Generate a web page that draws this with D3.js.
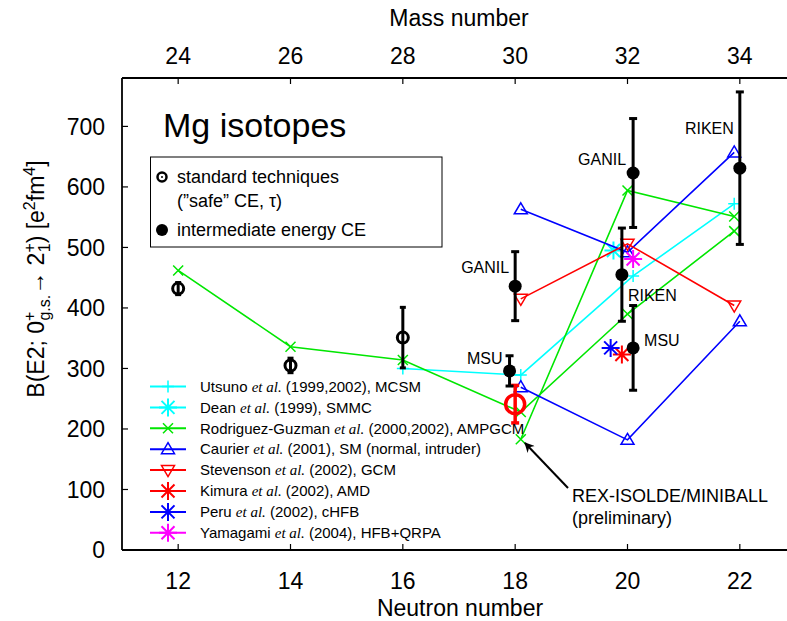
<!DOCTYPE html>
<html>
<head>
<meta charset="utf-8">
<script src="https://cdn.jsdelivr.net/npm/d3@7"></script>
<style>
  body { margin: 0; background: #fff; }
  svg { font-family: "Liberation Sans", Arial, sans-serif; }
</style>
</head>
<body>
<svg id="chart" width="787" height="621"></svg>
<script>
// tick labels
const neutronTicks = [12, 14, 16, 18, 20, 22];
const massTicks = [24, 26, 28, 30, 32, 34];
const bTicks = [0, 100, 200, 300, 400, 500, 600, 700];

// experiment: standard techniques (open circles)
const stdN = [12, 14, 16];
const stdB = [432, 305, 351];
const stdErr = [10, 12, 50];
// REX-ISOLDE/MINIBALL (preliminary)
const rexN = [18];
const rexB = [241];
const rexErr = [31];
// intermediate energy CE (filled)
const ieN = [17.9, 18.0, 20.1, 19.9, 20.1, 22.0];
const ieB = [296, 436, 623, 455, 334, 631];
const ieErr = [25, 57, 90, 77, 70, 126];
const ieLab = ["MSU", "GANIL", "GANIL", "RIKEN", "MSU", "RIKEN"];

// theory
const utsunoN = [16, 18.1, 20.1, 21.9];
const utsunoB = [300, 289, 453, 572];
const deanN = [19.75];
const deanB = [495];
const rodrigN1 = [12, 14, 16, 18.1, 20, 21.9];
const rodrigB1 = [462, 336, 314, 228, 390, 527];
const rodrigN2 = [18.1, 20, 21.9];
const rodrigB2 = [183, 594, 551];
const caurierN1 = [18.1, 20, 21.9];
const caurierB1 = [563, 492, 657];
const caurierN2 = [18.1, 20, 22];
const caurierB2 = [269, 182, 378];
const stevN = [18.1, 20, 21.9];
const stevB = [415, 506, 404];
const kimuraN = [19.9];
const kimuraB = [323];
const peruN = [19.7];
const peruB = [334];
const yamaN = [20.1];
const yamaB = [481];

const svg = d3.select("#chart");
const mLeft = 122, mTop = 78, mBottom = 550, mRight = 796;

const x = d3.scaleLinear().domain([11, 23]).range([mLeft, mRight]);
const y = d3.scaleLinear().domain([0, 780]).range([mBottom, mTop]);

const zip = (a, b) => a.map((v, i) => [v, b[i]]);

// markers
function marker(g, kind, cx, cy, color) {
  const m = g.append("g").attr("transform", `translate(${cx},${cy})`)
    .style("stroke", color).style("fill", "none").style("stroke-width", 1.5);
  if (kind === "plus") {
    m.append("path").attr("d", "M-6,0H6M0,-6V6");
  } else if (kind === "cross") {
    m.append("path").attr("d", "M-5,-5L5,5M-5,5L5,-5");
  } else if (kind === "star") {
    m.style("stroke-width", 2)
      .append("path").attr("d", "M-9,0H9M0,-9V9M-6.5,-6.5L6.5,6.5M-6.5,6.5L6.5,-6.5");
  } else if (kind === "tri") {
    m.append("path").attr("d", "M0,-6.5L6.5,4.5H-6.5Z");
  } else if (kind === "tridown") {
    m.append("path").attr("d", "M0,6.5L6.5,-4.5H-6.5Z");
  }
}

function series(N, B, color, kind, line) {
  const g = svg.append("g");
  if (line) {
    g.append("path")
      .attr("d", d3.line().x(d => x(d[0])).y(d => y(d[1]))(zip(N, B)))
      .style("fill", "none").style("stroke", color).style("stroke-width", 1.6);
  }
  N.forEach((n, i) => marker(g, kind, x(n), y(B[i]), color));
}

const cyan = "#00ffff", green = "#00e600", blue = "#0000ff", red = "#ff0000", magenta = "#ff00ff";

series(utsunoN, utsunoB, cyan, "plus", true);
series(deanN, deanB, cyan, "star", false);
series(rodrigN1, rodrigB1, green, "cross", true);
series(rodrigN2, rodrigB2, green, "cross", true);
series(caurierN1, caurierB1, blue, "tri", true);
series(caurierN2, caurierB2, blue, "tri", true);
series(stevN, stevB, red, "tridown", true);
series(kimuraN, kimuraB, red, "star", false);
series(peruN, peruB, blue, "star", false);
series(yamaN, yamaB, magenta, "star", false);

// error bars
function errBar(g, n, b, e, color, w, cap) {
  g.append("line").attr("x1", x(n)).attr("x2", x(n)).attr("y1", y(b - e)).attr("y2", y(b + e))
    .style("stroke", color).style("stroke-width", w);
  [b - e, b + e].forEach(v => g.append("line")
    .attr("x1", x(n) - cap).attr("x2", x(n) + cap).attr("y1", y(v)).attr("y2", y(v))
    .style("stroke", color).style("stroke-width", w));
}

const exp = svg.append("g");
stdN.forEach((n, i) => {
  errBar(exp, n, stdB[i], stdErr[i], "#000", 3, 3);
  exp.append("circle").attr("cx", x(n)).attr("cy", y(stdB[i])).attr("r", 5.5)
    .style("fill", "none").style("stroke", "#000").style("stroke-width", 3);
});
rexN.forEach((n, i) => {
  errBar(exp, n, rexB[i], rexErr[i], red, 3.5, 4);
  exp.append("circle").attr("cx", x(n)).attr("cy", y(rexB[i])).attr("r", 9.5)
    .style("fill", "none").style("stroke", red).style("stroke-width", 3.5);
});
ieN.forEach((n, i) => {
  errBar(exp, n, ieB[i], ieErr[i], "#000", 3, 4);
  exp.append("circle").attr("cx", x(n)).attr("cy", y(ieB[i])).attr("r", 6.5).style("fill", "#000");
});

// facility labels (offsets in px from the point)
const labOff = [[-7, 358, "end"], [-6, 267, "end"], [-7, 159, "end"], [6, 295, "start"], [11, 340, "start"], [-6, 128, "end"]];
ieN.forEach((n, i) => {
  svg.append("text").attr("x", x(n) + labOff[i][0]).attr("y", labOff[i][1])
    .attr("dy", "0.35em").attr("text-anchor", labOff[i][2])
    .style("font-size", "16px").text(ieLab[i]);
});

// axes frame
const ax = svg.append("g").style("stroke", "#000").style("stroke-width", 1.8);
ax.append("line").attr("x1", mLeft).attr("x2", 787).attr("y1", mBottom).attr("y2", mBottom);
ax.append("line").attr("x1", mLeft).attr("x2", 787).attr("y1", mTop).attr("y2", mTop);
ax.append("line").attr("x1", mLeft).attr("x2", mLeft).attr("y1", mTop).attr("y2", mBottom);

neutronTicks.forEach(t => {
  ax.append("line").attr("x1", x(t)).attr("x2", x(t)).attr("y1", mBottom).attr("y2", mBottom - 6).style("stroke-width", 1.2);
  svg.append("text").attr("x", x(t)).attr("y", 589).attr("text-anchor", "middle")
    .style("font-size", "23px").text(t);
});
massTicks.forEach(t => {
  const xx = x(t - 12);
  ax.append("line").attr("x1", xx).attr("x2", xx).attr("y1", mTop).attr("y2", mTop + 6).style("stroke-width", 1.2);
  svg.append("text").attr("x", xx).attr("y", 64).attr("text-anchor", "middle")
    .style("font-size", "23px").text(t);
});
bTicks.forEach(t => {
  ax.append("line").attr("x1", mLeft).attr("x2", mLeft + 6).attr("y1", y(t)).attr("y2", y(t)).style("stroke-width", 1.2);
  svg.append("text").attr("x", 105).attr("y", y(t)).attr("dy", "0.36em").attr("text-anchor", "end")
    .style("font-size", "23px").text(t);
});

// axis titles
svg.append("text").attr("x", 460).attr("y", 616).attr("text-anchor", "middle")
  .style("font-size", "23px").text("Neutron number");
svg.append("text").attr("x", 459).attr("y", 26).attr("text-anchor", "middle")
  .style("font-size", "23px").text("Mass number");

const yt = svg.append("text").attr("transform", "translate(44,279) rotate(-90)")
  .attr("text-anchor", "middle").style("font-size", "23px");
yt.append("tspan").text("B(E2; 0");
yt.append("tspan").attr("dy", -9).style("font-size", "16px").text("+");
yt.append("tspan").attr("dx", -9).attr("dy", 15).style("font-size", "16px").text("g.s.");
yt.append("tspan").attr("dy", -6).text("\u2192 2");
yt.append("tspan").attr("dy", -9).style("font-size", "16px").text("+");
yt.append("tspan").attr("dx", -9).attr("dy", 15).style("font-size", "16px").text("1");
yt.append("tspan").attr("dy", -6).text(") [e");
yt.append("tspan").attr("dy", -9).style("font-size", "16px").text("2");
yt.append("tspan").attr("dy", 9).text("fm");
yt.append("tspan").attr("dy", -9).style("font-size", "16px").text("4");
yt.append("tspan").attr("dy", 9).text("]");

// title
svg.append("text").attr("x", 163).attr("y", 137).style("font-size", "34px").text("Mg isotopes");

// experiment legend box
svg.append("rect").attr("x", 150.5).attr("y", 157).attr("width", 291.5).attr("height", 90)
  .style("fill", "#fff").style("stroke", "#000").style("stroke-width", 1);
svg.append("circle").attr("cx", 162).attr("cy", 177).attr("r", 4.5)
  .style("fill", "none").style("stroke", "#000").style("stroke-width", 2.5);
svg.append("circle").attr("cx", 162).attr("cy", 177).attr("r", 1).style("fill", "#000");
svg.append("circle").attr("cx", 162).attr("cy", 230).attr("r", 6).style("fill", "#000");
svg.append("text").attr("x", 177).attr("y", 183).style("font-size", "18px").text("standard techniques");
svg.append("text").attr("x", 177).attr("y", 207).style("font-size", "18px").text("(\u201dsafe\u201d CE, \u03c4)");
svg.append("text").attr("x", 177).attr("y", 236).style("font-size", "18px").text("intermediate energy CE");

// theory legend
const legNames = [
  ["Utsuno", " (1999,2002), MCSM", cyan, "plus"],
  ["Dean", " (1999), SMMC", cyan, "star"],
  ["Rodriguez-Guzman", " (2000,2002), AMPGCM", green, "cross"],
  ["Caurier", " (2001),  SM (normal, intruder)", blue, "tri"],
  ["Stevenson", " (2002), GCM", red, "tridown"],
  ["Kimura", " (2002), AMD", red, "star"],
  ["Peru", " (2002), cHFB", blue, "star"],
  ["Yamagami", " (2004), HFB+QRPA", magenta, "star"]
];
legNames.forEach((d, i) => {
  const ly = 386.5 + i * 20.9;
  const g = svg.append("g");
  g.append("line").attr("x1", 150).attr("x2", 186).attr("y1", ly).attr("y2", ly)
    .style("stroke", d[2]).style("stroke-width", 2);
  marker(g, d[3], 168, ly, d[2]);
  const t = svg.append("text").attr("x", 200).attr("y", ly).attr("dy", "0.35em").style("font-size", "15px");
  t.append("tspan").text(d[0] + " ");
  t.append("tspan").style("font-family", "'Liberation Serif', serif").style("font-style", "italic").text("et al.");
  t.append("tspan").text(d[1]);
});

// REX-ISOLDE annotation
svg.append("defs").append("marker").attr("id", "ah").attr("viewBox", "0 0 10 10")
  .attr("refX", 9).attr("refY", 5).attr("markerWidth", 12).attr("markerHeight", 10)
  .attr("markerUnits", "userSpaceOnUse").attr("orient", "auto")
  .append("path").attr("d", "M0,0L10,5L0,10L3,5Z").style("fill", "#000");
svg.append("line").attr("x1", 568).attr("y1", 488).attr("x2", 525).attr("y2", 443)
  .style("stroke", "#000").style("stroke-width", 2).attr("marker-end", "url(#ah)");
svg.append("text").attr("x", 572).attr("y", 502).style("font-size", "18px").text("REX-ISOLDE/MINIBALL");
svg.append("text").attr("x", 572).attr("y", 524).style("font-size", "18px").text("(preliminary)");
</script>
</body>
</html>
